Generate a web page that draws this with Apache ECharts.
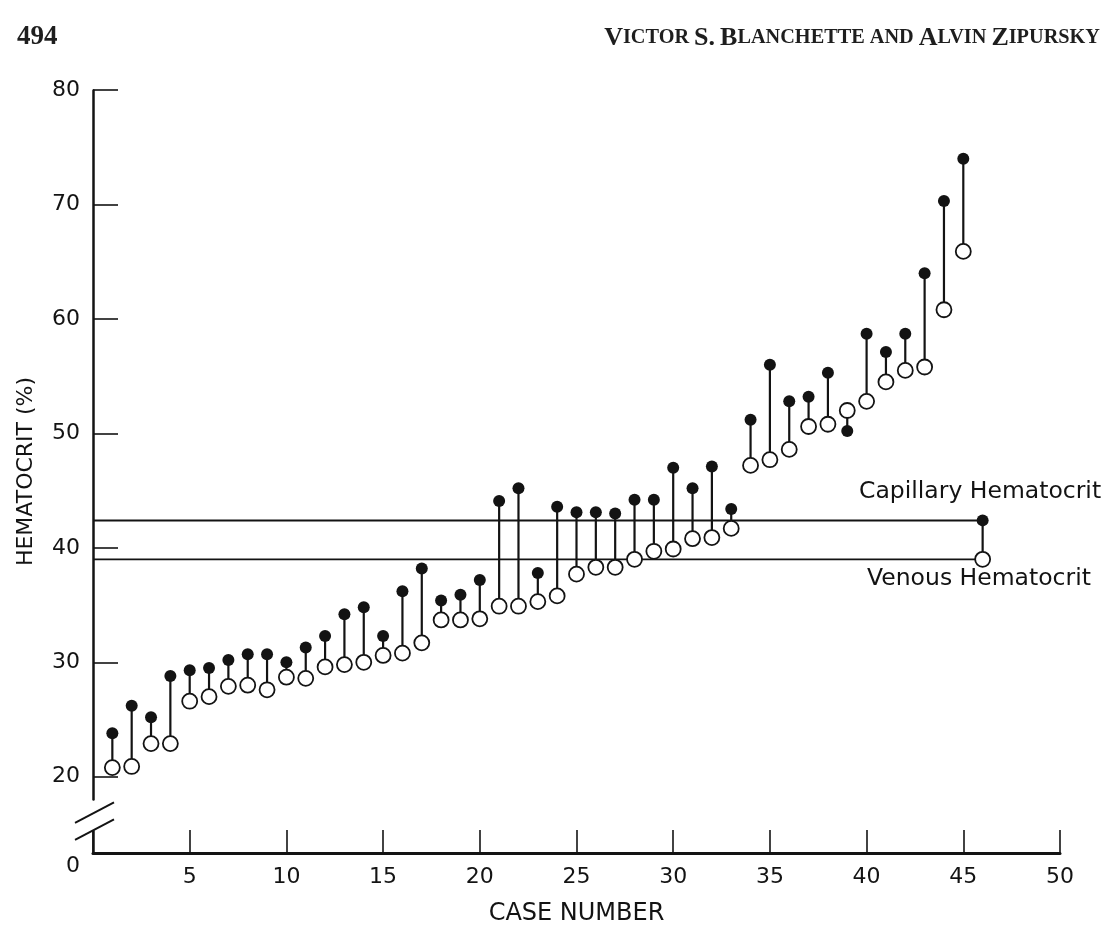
<!DOCTYPE html>
<html>
<head>
<meta charset="utf-8">
<script src="https://cdn.jsdelivr.net/npm/echarts@6.0.0/dist/echarts.min.js"></script>
<style>
  html, body { margin: 0; padding: 0; background: #ffffff; }
  #chart { width: 1110px; height: 930px; }
</style>
</head>
<body>
<div id="chart"></div>
<script>
// Case numbers along the horizontal axis
const caseNumbers = [
  1, 2, 3, 4, 5, 6, 7, 8, 9, 10,
  11, 12, 13, 14, 15, 16, 17, 18, 19, 20,
  21, 22, 23, 24, 25, 26, 27, 28, 29, 30,
  31, 32, 33, 34, 35, 36, 37, 38, 39, 40,
  41, 42, 43, 44, 45, 46
];

// Capillary hematocrit (%), filled dots
const capillary = [
  23.8, 26.2, 25.2, 28.8, 29.3, 29.5, 30.2, 30.7, 30.7, 30.0,
  31.3, 32.3, 34.2, 34.8, 32.3, 36.2, 38.2, 35.4, 35.9, 37.2,
  44.1, 45.2, 37.8, 43.6, 43.1, 43.1, 43.0, 44.2, 44.2, 47.0,
  45.2, 47.1, 43.4, 51.2, 56.0, 52.8, 53.2, 55.3, 50.2, 58.7,
  57.1, 58.7, 64.0, 70.3, 74.0, 42.4
];

// Venous hematocrit (%), open circles
const venous = [
  20.8, 20.9, 22.9, 22.9, 26.6, 27.0, 27.9, 28.0, 27.6, 28.7,
  28.6, 29.6, 29.8, 30.0, 30.6, 30.8, 31.7, 33.7, 33.7, 33.8,
  34.9, 34.9, 35.3, 35.8, 37.7, 38.3, 38.3, 39.0, 39.7, 39.9,
  40.8, 40.9, 41.7, 47.2, 47.7, 48.6, 50.6, 50.8, 52.0, 52.8,
  54.5, 55.5, 55.8, 60.8, 65.9, 39.0
];

// Horizontal reference levels
const capillaryLevel = 42.4;
const venousLevel = 39.0;

// Axis ticks
const yLabelValues = [0, 20, 30, 40, 50, 60, 70, 80];
const yTickValues = [20, 30, 40, 50, 60, 70, 80];
const xTickValues = [5, 10, 15, 20, 25, 30, 35, 40, 45, 50];

// Broken span of the vertical axis
const yBreak = { start: 2, end: 18, gap: 2.66 };

const INK = '#131313';
const chart = echarts.init(document.getElementById('chart'), null, { renderer: 'canvas' });

const stemData = caseNumbers.map((c, i) => [c, venous[i], capillary[i]]);
const lastCase = caseNumbers[caseNumbers.length - 1];

const option = {
  backgroundColor: '#ffffff',
  animation: false,
  title: [
    {
      text: '494',
      left: 12,
      top: 19,
      textStyle: { fontFamily: 'Liberation Serif', fontWeight: 'bold', fontSize: 27, color: '#1e1e1e' }
    },
    {
      text: '{c|V}{s|ICTOR} {c|S.} {c|B}{s|LANCHETTE AND} {c|A}{s|LVIN} {c|Z}{s|IPURSKY}',
      right: 5,
      top: 20,
      textStyle: {
        color: '#1e1e1e',
        rich: {
          c: { fontFamily: 'Liberation Serif', fontSize: 26, color: '#1e1e1e' },
          s: { fontFamily: 'Liberation Serif', fontSize: 20.3, color: '#1e1e1e' }
        }
      }
    }
  ],
  grid: {
    left: 93,
    right: 50,
    top: 90,
    bottom: 77,
    containLabel: false,
    outerBoundsMode: 'none'
  },
  xAxis: {
    type: 'value',
    min: 0,
    max: 50,
    interval: 5,
    name: 'CASE NUMBER',
    nameLocation: 'middle',
    nameGap: 49,
    nameTextStyle: { fontFamily: 'DejaVu Sans', fontSize: 24, color: INK },
    axisLine: { show: true, onZero: false, lineStyle: { color: INK, width: 3 } },
    axisTick: { show: true, inside: true, length: 23, lineStyle: { color: INK, width: 1.6 } },
    axisLabel: {
      margin: 13,
      fontFamily: 'DejaVu Sans',
      fontSize: 22,
      color: INK,
      formatter: v => (xTickValues.indexOf(v) >= 0 ? String(v) : '')
    },
    splitLine: { show: false }
  },
  yAxis: {
    type: 'value',
    min: 0,
    max: 80,
    breaks: [yBreak],
    breakArea: { show: false },
    name: 'HEMATOCRIT (%)',
    nameLocation: 'middle',
    nameGap: 56,
    nameTextStyle: { fontFamily: 'DejaVu Sans', fontSize: 22, color: INK },
    axisLine: { show: true, onZero: false, lineStyle: { color: INK, width: 2.5 } },
    axisTick: {
      show: true, inside: true, length: 25, customValues: yTickValues,
      lineStyle: { color: INK, width: 1.6 }
    },
    axisLabel: {
      margin: 13,
      customValues: yLabelValues,
      fontFamily: 'DejaVu Sans',
      fontSize: 22,
      color: INK,
      formatter: v => (v === 0 ? '{z|0}' : String(v)),
      rich: {
        z: { fontFamily: 'DejaVu Sans', fontSize: 22, color: INK, padding: [26, 0, 0, 0] }
      }
    },
    splitLine: { show: false }
  },
  series: [
    {
      name: 'Capillary level',
      type: 'line',
      data: [[0, capillaryLevel], [lastCase, capillaryLevel]],
      symbol: 'none',
      lineStyle: { color: INK, width: 2 },
      z: 1,
      silent: true
    },
    {
      name: 'Venous level',
      type: 'line',
      data: [[0, venousLevel], [lastCase, venousLevel]],
      symbol: 'none',
      lineStyle: { color: INK, width: 1.7 },
      z: 1,
      silent: true
    },
    {
      name: 'Stems',
      type: 'custom',
      data: stemData,
      encode: { x: 0, y: [1, 2] },
      renderItem: (params, api) => {
        const a = api.coord([api.value(0), api.value(1)]);
        const b = api.coord([api.value(0), api.value(2)]);
        return {
          type: 'line',
          shape: { x1: a[0], y1: a[1], x2: b[0], y2: b[1] },
          style: { stroke: INK, lineWidth: 2.2 }
        };
      },
      z: 2,
      silent: true
    },
    {
      name: 'Venous Hematocrit',
      type: 'scatter',
      data: caseNumbers.map((c, i) => [c, venous[i]]),
      symbol: 'circle',
      symbolSize: 15,
      itemStyle: { color: '#ffffff', borderColor: INK, borderWidth: 1.8, opacity: 1 },
      z: 3
    },
    {
      name: 'Capillary Hematocrit',
      type: 'scatter',
      data: caseNumbers.map((c, i) => [c, capillary[i]]),
      symbol: 'circle',
      symbolSize: 12,
      itemStyle: { color: INK, opacity: 1 },
      z: 4
    }
  ]
};

chart.setOption(option);

// Break symbol across the vertical axis and the two reference line captions
function drawExtras() {
  const pStart = chart.convertToPixel({ gridIndex: 0 }, [0, yBreak.start]);
  const pEnd = chart.convertToPixel({ gridIndex: 0 }, [0, yBreak.end]);
  const ax = pStart[0];
  const midY = (pStart[1] + pEnd[1]) / 2 + 7;
  const half = 8.5;
  const slash = (cy) => ({
    type: 'line',
    shape: { x1: ax - 18, y1: cy + 9.5, x2: ax + 21, y2: cy - 11 },
    style: { stroke: INK, lineWidth: 2 },
    z: 100
  });
  chart.setOption({
    graphic: [
      {
        type: 'rect',
        shape: { x: ax - 3, y: midY - half, width: 6, height: half * 2 },
        style: { fill: '#ffffff' },
        z: 99
      },
      slash(midY - half),
      slash(midY + half),
      {
        type: 'text',
        style: {
          text: 'Capillary Hematocrit',
          x: 859, y: 492,
          fontFamily: 'DejaVu Sans', fontSize: 23.5, fill: INK,
          verticalAlign: 'middle', align: 'left'
        },
        z: 100
      },
      {
        type: 'text',
        style: {
          text: 'Venous Hematocrit',
          x: 867, y: 579,
          fontFamily: 'DejaVu Sans', fontSize: 23.5, fill: INK,
          verticalAlign: 'middle', align: 'left'
        },
        z: 100
      }
    ]
  });
}
drawExtras();
</script>
</body>
</html>
